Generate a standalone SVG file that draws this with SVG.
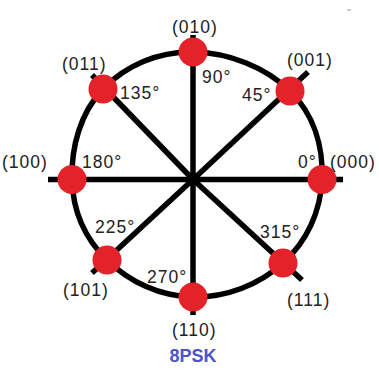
<svg xmlns="http://www.w3.org/2000/svg" width="379" height="371" viewBox="0 0 379 371">
<style>
.ln{stroke:#000;stroke-width:5.5;fill:none;stroke-linecap:butt}
.dot{fill:#e3222a}
.lb{font-family:"Liberation Sans",Arial,sans-serif;font-size:17.5px;fill:#222;letter-spacing:1px}
.ttl{font-family:"Liberation Sans",Arial,sans-serif;font-size:18px;font-weight:bold;fill:#4d55c6}
</style>
<rect width="379" height="371" fill="#fff"/>
<g id="connectors">
<path class="ln" d="M193,52 C228.06,52.38 265.81,67.19 290,91 C314.19,114.81 323.31,146.75 322,179 C320.69,211.25 307.19,240.87 283,263 C258.81,285.13 226,297.56 193,297 C160,296.44 129.69,282.13 107,260 C84.31,237.870 72.75,211.06 72,179 C71.25,146.94 80.31,112.81 103,89 C125.69,65.19 157.94,51.62 193,52 Z"/>
<line class="ln" x1="48" y1="179.5" x2="343" y2="179.5"/>
<line class="ln" x1="193" y1="35" x2="193" y2="315"/>
<line class="ln" x1="193" y1="179.5" x2="92" y2="75"/>
<line class="ln" x1="193" y1="179.5" x2="308" y2="72"/>
<line class="ln" x1="193" y1="179.5" x2="92" y2="273"/>
<line class="ln" x1="193" y1="179.5" x2="302" y2="280"/>
</g>
<g id="n000"><circle class="dot" cx="322" cy="179.5" r="14.5"/><text class="lb" x="330" y="168">(000)</text><text class="lb" x="298" y="168">0°</text></g>
<g id="n001"><circle class="dot" cx="290" cy="91" r="14.5"/><text class="lb" x="287" y="66">(001)</text><text class="lb" x="242" y="101">45°</text></g>
<g id="n010"><circle class="dot" cx="193" cy="52" r="14.5"/><text class="lb" x="172" y="33">(010)</text><text class="lb" x="202" y="83">90°</text></g>
<g id="n011"><circle class="dot" cx="103" cy="89" r="14.5"/><text class="lb" x="62" y="70">(011)</text><text class="lb" x="120" y="99">135°</text></g>
<g id="n100"><circle class="dot" cx="72" cy="179.5" r="14.5"/><text class="lb" x="2" y="168">(100)</text><text class="lb" x="82" y="168">180°</text></g>
<g id="n101"><circle class="dot" cx="107" cy="260" r="14.5"/><text class="lb" x="63" y="296">(101)</text><text class="lb" x="95" y="233">225°</text></g>
<g id="n110"><circle class="dot" cx="193" cy="297" r="14.5"/><text class="lb" x="172" y="336">(110)</text><text class="lb" x="147" y="283">270°</text></g>
<g id="n111"><circle class="dot" cx="283" cy="263" r="14.5"/><text class="lb" x="287" y="306">(111)</text><text class="lb" x="260" y="238">315°</text></g>
<g id="title"><text class="ttl" x="193" y="362" text-anchor="middle">8PSK</text></g>
<line x1="347" y1="10" x2="351" y2="10" stroke="#999" stroke-width="1"/>
</svg>
